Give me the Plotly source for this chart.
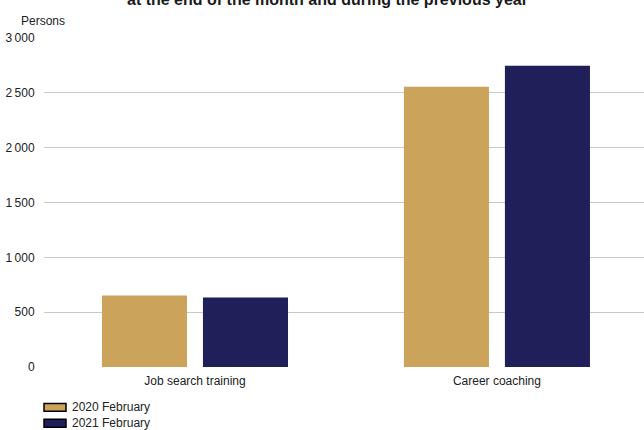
import plotly.graph_objects as go

categories = ["Job search training", "Career coaching"]
series_names = ["2020 February", "2021 February"]
values_2020 = [652, 2555]
values_2021 = [634, 2747]
series_colors = ["#CCA35A", "#211F5A"]
tick_vals = [0, 500, 1000, 1500, 2000, 2500, 3000]
tick_text = ["0", "500", "1\u202f000", "1\u202f500", "2\u202f000", "2\u202f500", "3\u202f000"]
title_line = "at the end of the month and during the previous year"
y_unit = "Persons"

FONT = "Liberation Sans, Arial, sans-serif"

fig = go.Figure()
for name, vals, col in zip(series_names, [values_2020, values_2021], series_colors):
    fig.add_trace(go.Bar(x=categories, y=vals, name=name, marker=dict(color=col, line=dict(width=0)),
                         showlegend=False))

W, H = 644, 430
ml, mr, mt, mb = 44, 0, 37.5, 62.5
plot_h = H - mt - mb
plot_w = W - ml - mr

fig.update_layout(
    width=W, height=H,
    margin=dict(l=ml, r=mr, t=mt, b=mb, pad=0),
    paper_bgcolor="white", plot_bgcolor="white",
    barmode="group", bargap=0.331, bargroupgap=0.158,
    font=dict(family=FONT, size=12, color="#222222"),
    xaxis=dict(type="category", range=[-0.5, 1.487], showgrid=False, showline=False,
               zeroline=False, ticks="outside", ticklen=3, tickcolor="rgba(0,0,0,0)",
               tickfont=dict(size=12, color="#222222")),
    yaxis=dict(range=[0, 3000], tickvals=tick_vals, ticktext=tick_text, showgrid=True,
               gridcolor="#C8C8C8", gridwidth=1.3, zeroline=False, showline=False,
               ticks="outside", ticklen=6, tickcolor="rgba(0,0,0,0)",
               tickfont=dict(size=12, color="#222222")),
)

# title (partially cut off at the top, as in the reference)
fig.add_annotation(text="<b>" + title_line + "</b>", xref="paper", yref="paper",
                   x=(327 - ml) / plot_w, y=1 + (mt + 1) / plot_h, xanchor="center", yanchor="middle",
                   showarrow=False, font=dict(size=16, color="#1a1a1a", family=FONT))
# unit label
fig.add_annotation(text=y_unit, xref="paper", yref="paper", x=(19 - ml) / plot_w,
                   y=1 + (mt - 20) / plot_h, xanchor="left", yanchor="middle", showarrow=False,
                   font=dict(size=12, color="#222222", family=FONT))

# legend drawn below the plot
for i, (name, col) in enumerate(zip(series_names, series_colors)):
    yc = 408 + i * 16
    fig.add_shape(type="rect", xref="paper", yref="paper",
                  x0=(44 - ml) / plot_w, x1=(66 - ml) / plot_w,
                  y0=1 - (yc + 4 - mt) / plot_h, y1=1 - (yc - 4 - mt) / plot_h,
                  fillcolor=col, line=dict(color="black", width=1.5))
    fig.add_annotation(text=name, xref="paper", yref="paper", x=(70 - ml) / plot_w,
                       y=1 - (yc - mt) / plot_h, xanchor="left", yanchor="middle", showarrow=False,
                       font=dict(size=12, color="#222222", family=FONT))

fig.write_html("out.html", config={"displayModeBar": False},
               post_script="document.body.style.margin='0';document.body.style.overflow='hidden';")
